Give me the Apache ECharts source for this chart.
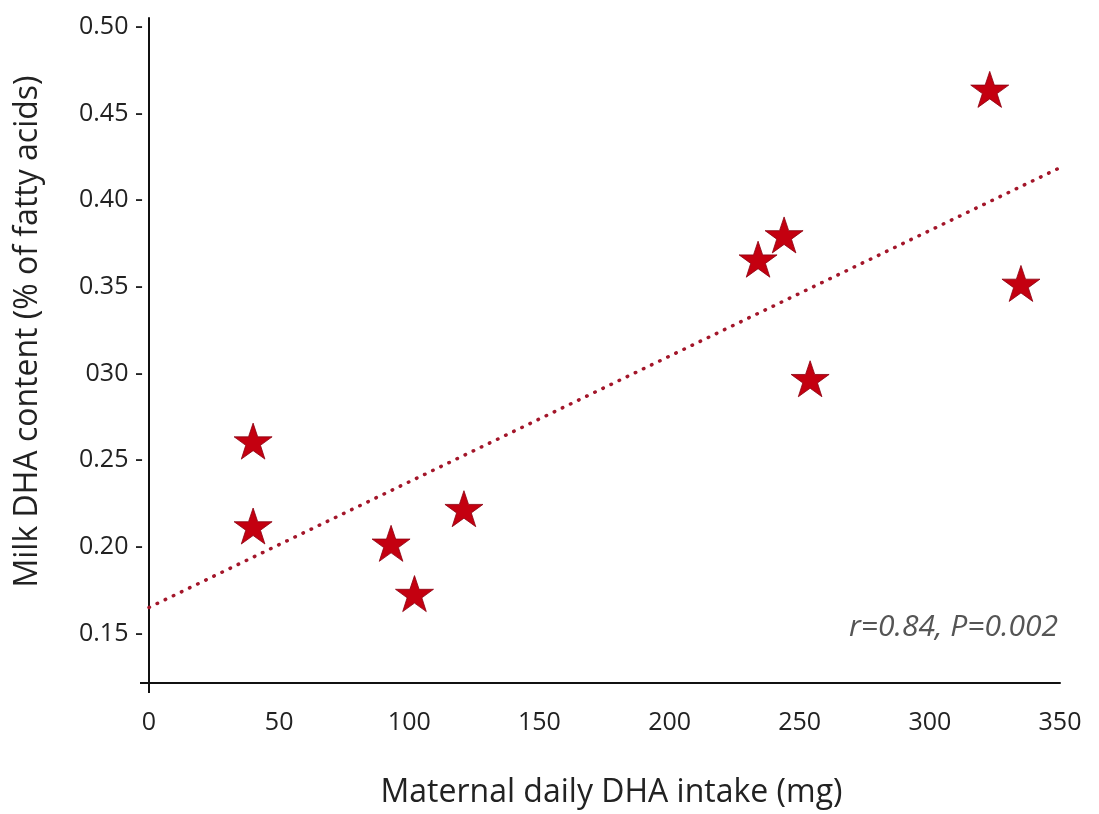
<!DOCTYPE html>
<html>
<head>
<meta charset="utf-8">
<script src="https://cdn.jsdelivr.net/npm/echarts@6/dist/echarts.min.js"></script>
<style>
  html, body { margin: 0; padding: 0; background: #fff; overflow: hidden; }
  #main { width: 1099px; height: 814px; }
</style>
</head>
<body>
<div id="main"></div>
<script>
// intake (mg) and milk DHA (% of fatty acids)
var intake = [40, 40, 93, 102, 121, 234, 244, 254, 323, 335];
var milkDha = [0.261, 0.212, 0.202, 0.173, 0.222, 0.366, 0.380, 0.297, 0.464, 0.352];

// regression line end points
var trendX = [0, 353];
var trendY = [0.165, 0.421];

var xTicks = [0, 50, 100, 150, 200, 250, 300, 350];
var yTicks = [0.15, 0.20, 0.25, 0.30, 0.35, 0.40, 0.45, 0.50];
var yTickLabels = ['0.15 -', '0.20 -', '0.25 -', '030 -', '0.35 -', '0.40 -', '0.45 -', '0.50 -'];

var starPath = 'path://M50,0 L61.8,35.2 L98.8,35.2 L68.9,57 L80.3,92.4 L50,70.6 L19.7,92.4 L31.1,57 L1.2,35.2 L38.2,35.2 Z';
var font = '"Open Sans", "Noto Sans", sans-serif';

var chart = echarts.init(document.getElementById('main'));
chart.setOption({
  animation: false,
  backgroundColor: '#fff',
  grid: { left: 149, right: 39, top: 18, bottom: 126, containLabel: false },
  xAxis: {
    type: 'value', min: 0, max: 350,
    name: 'Maternal daily DHA intake (mg)',
    nameLocation: 'middle', nameGap: 94,
    nameTextStyle: { fontFamily: font, fontSize: 32, color: '#222', padding: [0, 0, 0, 14] },
    splitLine: { show: false },
    axisLine: { lineStyle: { color: '#111', width: 2 } },
    axisTick: { show: true, customValues: [0], length: 10, lineStyle: { color: '#111', width: 2 } },
    axisLabel: {
      customValues: xTicks, margin: 27,
      fontFamily: font, fontSize: 25, color: '#222'
    }
  },
  yAxis: {
    type: 'value', min: 0.1214, max: 0.5052,
    name: 'Milk DHA content (% of fatty acids)',
    nameLocation: 'middle', nameGap: 105,
    nameTextStyle: { fontFamily: font, fontSize: 32, color: '#222', padding: [0, 0, 0, 38] },
    splitLine: { show: false },
    axisLine: { lineStyle: { color: '#111', width: 2 } },
    axisTick: { show: true, customValues: [0.1214], length: 9, lineStyle: { color: '#111', width: 2 } },
    axisLabel: {
      customValues: yTicks, margin: 6,
      fontFamily: font, fontSize: 25, color: '#222',
      formatter: function (v) {
        for (var i = 0; i < yTicks.length; i++) {
          if (Math.abs(yTicks[i] - v) < 1e-6) return yTickLabels[i];
        }
        return '';
      }
    }
  },
  series: [
    {
      type: 'line',
      data: trendX.map(function (x, i) { return [x, trendY[i]]; }),
      showSymbol: false, symbol: 'none', clip: false,
      lineStyle: { color: '#a3162a', width: 3.5, type: [0.5, 8.5], cap: 'round' },
      z: 1
    },
    {
      type: 'scatter',
      data: intake.map(function (x, i) { return [x, milkDha[i]]; }),
      symbol: starPath, symbolSize: [38, 36],
      itemStyle: { color: '#c40010', borderColor: '#8a0010', borderWidth: 0.8, opacity: 1 },
      z: 3
    }
  ],
  graphic: [
    {
      type: 'text', x: 1058, y: 627,
      style: {
        text: 'r=0.84, P=0.002',
        font: 'italic 30px "Open Sans", "Noto Sans", sans-serif',
        fill: '#555',
        align: 'right', verticalAlign: 'middle'
      }
    }
  ]
});
</script>
</body>
</html>
